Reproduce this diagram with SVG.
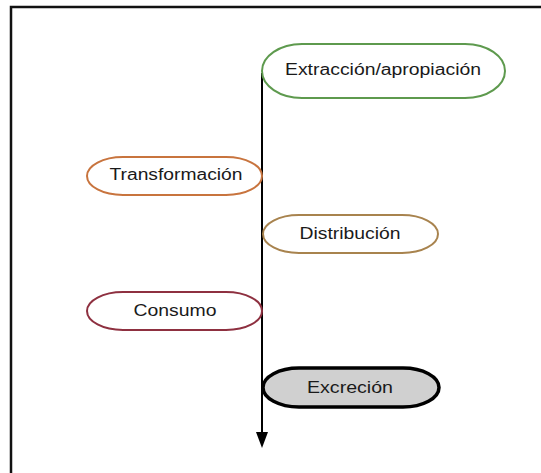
<svg xmlns="http://www.w3.org/2000/svg" width="541" height="473" viewBox="0 0 541 473">
<style>
.lbl{font-family:"Liberation Sans",Arial,sans-serif;font-size:16px;fill:#1a1a1a;text-anchor:middle}
.node{stroke-width:2;fill:#fff}
</style>
<defs>
<marker id="arr" viewBox="0 0 16 12" refX="1" refY="6" markerWidth="16" markerHeight="12" markerUnits="userSpaceOnUse" orient="auto">
<path d="M0,0 L16,6 L0,12 Z" fill="#000"/>
</marker>
</defs>
<rect x="0" y="0" width="541" height="473" fill="#fff"/>
<path d="M11,480 L11,7 L545,7" fill="none" stroke="#111" stroke-width="2.5"/>
<g id="connectors">
<line x1="262" y1="73" x2="262" y2="433" stroke="#000" stroke-width="2" marker-end="url(#arr)"/>
</g>
<g id="extraccion">
<rect class="node" x="262" y="44" width="243" height="54" rx="40" ry="27" stroke="#5e9a4e"/>
<text class="lbl" x="383" y="75" textLength="196" lengthAdjust="spacingAndGlyphs">Extracción/apropiación</text>
</g>
<g id="transformacion">
<rect class="node" x="87" y="157" width="175" height="38" rx="36" ry="19" stroke="#c8743e"/>
<text class="lbl" x="176" y="180" textLength="133" lengthAdjust="spacingAndGlyphs">Transformación</text>
</g>
<g id="distribucion">
<rect class="node" x="263" y="215" width="175" height="38" rx="36" ry="19" stroke="#a8834e"/>
<text class="lbl" x="350" y="239" textLength="101" lengthAdjust="spacingAndGlyphs">Distribución</text>
</g>
<g id="consumo">
<rect class="node" x="87" y="292" width="175" height="38" rx="36" ry="19" stroke="#8e3040"/>
<text class="lbl" x="175" y="316" textLength="83" lengthAdjust="spacingAndGlyphs">Consumo</text>
</g>
<g id="excrecion">
<rect x="263" y="368" width="176" height="39" rx="36" ry="19.5" fill="#d0d0d0" stroke="#000" stroke-width="3.5"/>
<text class="lbl" x="350" y="393" textLength="86" lengthAdjust="spacingAndGlyphs">Excreción</text>
</g>
</svg>
